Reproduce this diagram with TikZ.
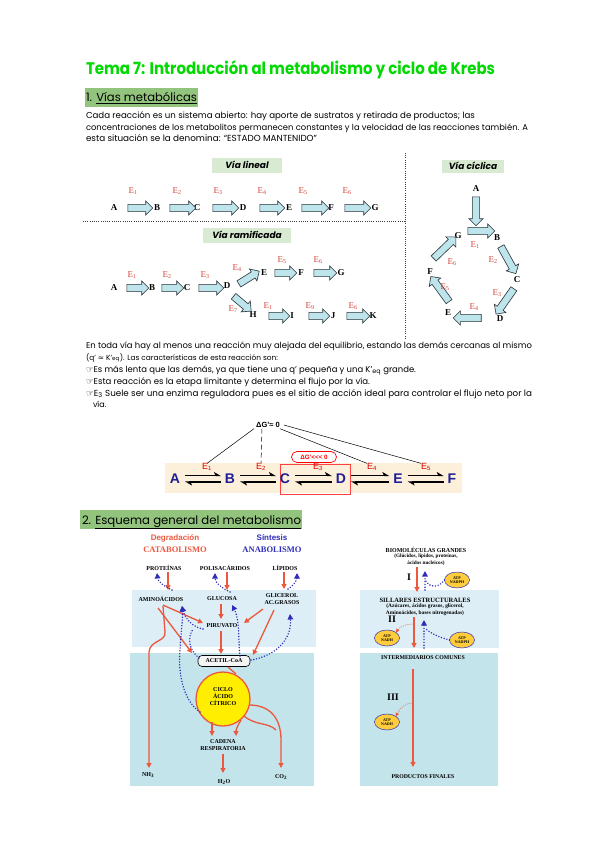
\documentclass[tikz,border=0pt]{standalone}
\usepackage{fontspec}
\usepackage{graphicx}
\setmainfont{Poppins}
\newfontfamily\serifb{Liberation Serif}
\newfontfamily\sansb{Liberation Sans}
\newfontfamily\dejavu{DejaVu Sans}
\usetikzlibrary{shapes.arrows,shapes.geometric,arrows.meta}
\newcommand{\fitto}[2]{\resizebox{#1}{!}{#2}}
\newcommand{\fsz}[1]{\fontsize{#1}{#1}\selectfont}
\definecolor{tgreen}{RGB}{0,218,0}
\definecolor{hgreen}{RGB}{147,196,125}
\definecolor{lgreen}{RGB}{217,234,211}
\definecolor{afill}{RGB}{190,228,236}
\definecolor{aline}{RGB}{40,50,55}
\definecolor{ered}{RGB}{214,68,58}
\definecolor{beige}{RGB}{253,240,218}
\definecolor{lblue}{RGB}{30,30,150}
\definecolor{band1}{RGB}{221,238,246}
\definecolor{band2}{RGB}{196,228,235}
\definecolor{rarrow}{RGB}{236,88,62}
\definecolor{barrow}{RGB}{45,45,185}
\definecolor{cyel}{RGB}{255,238,0}
\definecolor{eyel}{RGB}{255,205,60}
\definecolor{sepgray}{RGB}{60,60,60}
\begin{document}
\begin{tikzpicture}[x=1pt,y=-1pt,
  every node/.style={inner sep=0pt,outer sep=0pt},
  body/.style={anchor=base west,font=\fsz{8}},
  blk/.style={shape=single arrow,draw=aline,fill=afill,line width=0.6pt,
    inner xsep=0pt,inner ysep=3.3pt,single arrow head extend=3.5pt,single arrow head indent=0pt},
  lt/.style={font=\serifb\bfseries\fsz{9}},
  el/.style={font=\serifb\fsz{9},text=ered},
  vialab/.style={fill=lgreen,minimum height=15pt,font=\bfseries\itshape\fsz{9}},
  dl/.style={font=\sansb\bfseries\fsz{14},text=lblue},
  de/.style={font=\sansb\fsz{9},text=red!85!black},
  eqa/.style={line width=1.5pt,-{Stealth[harpoon,length=6pt,width=7pt,inset=1.5pt]}},
  sep/.style={draw=sepgray,line width=0.9pt,dash pattern=on 1pt off 1.2pt},
  mt/.style={font=\serifb\bfseries\fsz{6}},
  rarr/.style={draw=rarrow,line width=1.3pt,-{Triangle[length=5pt,width=5pt]}},
  rline/.style={draw=rarrow,line width=1.3pt},
  bdot/.style={draw=barrow,line width=1.6pt,line cap=round,dash pattern=on 0pt off 2.8pt,-{Triangle[length=5.5pt,width=5.5pt]}},
  bdotl/.style={draw=barrow,line width=1.6pt,line cap=round,dash pattern=on 0pt off 2.8pt},
  rdot/.style={draw=rarrow,line width=1pt,line cap=round,dash pattern=on 0pt off 2pt,-{Triangle[length=3.5pt,width=3.5pt]}},
  atp/.style={ellipse,fill=eyel,draw=barrow,line width=0.5pt,minimum width=25pt,minimum height=16pt,align=center,font=\serifb\bfseries\fsz{4}}
]
\useasboundingbox (0,0) rectangle (600,848);
\fill[white] (0,0) rectangle (600,848);

% ---------- title and heading 1
\node[anchor=base west,text=tgreen] (title) at (86,75) {\resizebox{409pt}{14pt}{\bfseries Tema 7: Introducción al metabolismo y ciclo de Krebs}};
\fill[hgreen] (85,88) rectangle (198,107);
\node[anchor=base west] (h1) at (86,102) {\fitto{111pt}{\fsz{12}1. \underline{Vías metabólicas}}};
\node[body] (p1) at (86,119) {\fitto{389pt}{Cada reacción es un sistema abierto: hay aporte de sustratos y retirada de productos; las}};
\node[body] (p2) at (86,131) {\fitto{442pt}{concentraciones de los metabolitos permanecen constantes y la velocidad de las reacciones también. A}};
\node[body] (p3) at (86,142) {\fitto{231pt}{esta situación se la denomina: “ESTADO MANTENIDO”}};

% ---------- separators
\draw[sep] (83,221) -- (405,221);
\draw[sep] (405,153) -- (405,338);

% ---------- via lineal
\node[vialab,minimum width=70pt] (vl) at (247,165) {Vía lineal};
\foreach \n/\x in {A/114,B/157,C/197,D/243,E/289,F/331,G/375}{\node[lt] (l\n) at (\x,208) {\n};}
\foreach \i/\c/\L in {1/138.5/25,2/181/26,3/224/26,4/270.5/25,5/313.5/27,6/356/26}{\node[blk,minimum height=\L pt] (la\i) at (\c,208) {};}
\foreach \i/\x in {1/133,2/177,3/218,4/262,5/303,6/347}{\node[el] (le\i) at (\x,191) {E\textsubscript{\i}};}

% ---------- via ramificada
\node[vialab,minimum width=88pt] (vr) at (247,235) {Vía ramificada};
\node[lt] (rA) at (114,288) {A};
\node[lt] (rB) at (152,288) {B};
\node[lt] (rC) at (187,288) {C};
\node[lt] (rD) at (227,286) {D};
\node[lt] (rE) at (264,273) {E};
\node[lt] (rF) at (301,273) {F};
\node[lt] (rG) at (341,273) {G};
\node[lt] (rH) at (253,315) {H};
\node[lt] (rI) at (292,316) {I};
\node[lt] (rJ) at (333,316) {J};
\node[lt] (rK) at (373,316) {K};
\node[blk,minimum height=22pt] (ra1) at (136,288) {};
\node[blk,minimum height=22pt] (ra2) at (171,288) {};
\node[blk,minimum height=25pt] (ra3) at (209.5,288) {};
\node[blk,minimum height=24pt,rotate=32] (ra4) at (247.5,278.5) {};
\node[blk,minimum height=22pt] (ra5) at (284,273) {};
\node[blk,minimum height=23pt] (ra6) at (323.5,273) {};
\node[blk,minimum height=23pt,rotate=-40] (ra7) at (241,302.5) {};
\node[blk,minimum height=21pt] (ra8) at (277.5,316) {};
\node[blk,minimum height=21pt] (ra9) at (317.5,316) {};
\node[blk,minimum height=23pt] (ra10) at (356.5,316) {};
\node[el] (re1) at (132,275) {E\textsubscript{1}};
\node[el] (re2) at (167,275) {E\textsubscript{2}};
\node[el] (re3) at (205,275) {E\textsubscript{3}};
\node[el] (re4) at (237,268) {E\textsubscript{4}};
\node[el] (re5) at (282,260) {E\textsubscript{5}};
\node[el] (re6) at (318,260) {E\textsubscript{6}};
\node[el] (re7) at (233,309) {E\textsubscript{7}};
\node[el] (re8) at (268,306) {E\textsubscript{1}};
\node[el] (re9) at (310,306) {E\textsubscript{9}};
\node[el] (re10) at (353,306) {E\textsubscript{6}};

% ---------- via ciclica
\node[vialab,minimum width=62pt,minimum height=13pt] (vc) at (473,166) {Vía cíclica};
\node[lt] (cA) at (476,189) {A};
\node[lt] (cG) at (458,236) {G};
\node[lt] (cB) at (497,238) {B};
\node[lt] (cC) at (517,280) {C};
\node[lt] (cD) at (500,319) {D};
\node[lt] (cE) at (448,313) {E};
\node[lt] (cF) at (430,272) {F};
\node[blk,minimum height=29pt,rotate=-90] (ca0) at (476,209.5) {};
\node[blk,minimum height=27pt] (ca1) at (479.5,231) {};
\node[blk,minimum height=31pt,rotate=-61] (ca2) at (507.5,258.5) {};
\node[blk,minimum height=31pt,rotate=-125] (ca3) at (506,300) {};
\node[blk,minimum height=28pt,rotate=180] (ca4) at (469,318) {};
\node[blk,minimum height=31pt,rotate=126] (ca5) at (441,290.5) {};
\node[blk,minimum height=31pt,rotate=44] (ca6) at (443.5,249) {};
\node[el] (ce1) at (475,245) {E\textsubscript{1}};
\node[el] (ce2) at (493,260) {E\textsubscript{2}};
\node[el] (ce3) at (497,293) {E\textsubscript{3}};
\node[el] (ce4) at (474,307) {E\textsubscript{4}};
\node[el] (ce5) at (445,287) {E\textsubscript{5}};
\node[el] (ce6) at (452,262) {E\textsubscript{6}};

% ---------- paragraph 2
\node[body] (q1) at (86,348) {\fitto{446pt}{En toda vía hay al menos una reacción muy alejada del equilibrio, estando las demás cercanas al mismo}};
\node[body] (q2) at (86,360) {\fitto{192pt}{(q’ {\dejavu ≈} K’\textsubscript{eq}). Las características de esta reacción son:}};
\node[body] (q3) at (86,372) {\fitto{330pt}{{\dejavu ☞}Es más lenta que las demás, ya que tiene una q’ pequeña y una K’\textsubscript{eq} grande.}};
\node[body] (q4) at (86,384) {\fitto{284pt}{{\dejavu ☞}Esta reacción es la etapa limitante y determina el flujo por la vía.}};
\node[body] (q5) at (86,396) {\fitto{446pt}{{\dejavu ☞}E\textsubscript{3} Suele ser una enzima reguladora pues es el sitio de acción ideal para controlar el flujo neto por la}};
\node[body] (q6) at (93,407) {vía.};

% ---------- delta G diagram
\fill[beige] (165,463) rectangle (462,493);
\draw[red!75!white,line width=0.8pt] (280,464) rectangle (350,494);
\foreach \n/\x in {A/175,B/230,C/285,D/341,E/398,F/452}{\node[dl] (d\n) at (\x,479) {\n};}
\foreach \a/\b in {A/B,B/C,C/D,D/E,E/F}{
  \draw[eqa] ([xshift=5pt,yshift=3.5pt]d\a.east) -- ([xshift=-4pt,yshift=3.5pt]d\b.west);
  \draw[eqa] ([xshift=-4pt,yshift=-3pt]d\b.west) -- ([xshift=5pt,yshift=-3pt]d\a.east);
}
\foreach \i/\x in {1/207,2/261,3/318,4/372,5/426}{\node[de] (de\i) at (\x,467) {E\textsubscript{\i}};}
\node[font=\sansb\bfseries\fsz{7.5}] (dg) at (268,425) {ΔG’≈ 0};
\node[draw=red,line width=0.7pt,rounded corners=5.5pt,minimum width=45pt,minimum height=11pt,font=\sansb\bfseries\fsz{6.3},text=red] (dgo) at (314,457) {ΔG’<<< 0};
\draw[line width=0.5pt] ([xshift=-14pt,yshift=-1pt]dg.south) -- (de1.north);
\draw[line width=0.5pt,dash pattern=on 5pt off 3pt] ([xshift=-6pt,yshift=-1pt]dg.south) -- (de2.north);
\draw[line width=0.5pt] ([yshift=-1pt]dg.south east) -- (de4.north west);
\draw[line width=0.5pt] ([xshift=4pt]dg.east) -- (de5.north west);

% ---------- heading 2
\fill[hgreen] (80,510) rectangle (302,529);
\node[anchor=base west] (h2) at (82,524) {\fitto{219pt}{\fsz{12}2. \underline{Esquema general del metabolismo}}};

% ---------- left metabolism figure
\fill[band1] (132,590) rectangle (316,647);
\fill[band2] (130,653) rectangle (314,786);
\node[font=\sansb\bfseries\fsz{8},text=rarrow] (deg) at (175,538) {Degradación};
\node[font=\serifb\bfseries\fsz{8.5},text=rarrow] (cat) at (175,550) {CATABOLISMO};
\node[font=\sansb\bfseries\fsz{8},text=barrow] (sin) at (272,538) {Síntesis};
\node[font=\serifb\bfseries\fsz{8.5},text=barrow] (ana) at (272,550) {ANABOLISMO};
\node[mt] (prot) at (164,568) {PROTEÍNAS};
\node[mt] (poli) at (225,568) {POLISACÁRIDOS};
\node[mt] (lip) at (285,568) {LÍPIDOS};
\node[mt] (amino) at (161,599) {AMINOÁCIDOS};
\node[mt] (gluc) at (222,599) {GLUCOSA};
\node[mt,align=center,font=\serifb\bfseries\fsz{6}] (glic) at (282,599) {GLICEROL\\[1.5pt]AC.GRASOS};
\node[mt] (piru) at (222,626) {PIRUVATO};
\node[mt,draw=black,line width=0.6pt,fill=white!92!gray,rounded corners=4pt,minimum width=52pt,minimum height=11pt] (acoa) at (224,661) {ACETIL-CoA};
\node[circle,fill=cyel,draw=rarrow,line width=1.3pt,minimum size=54pt] (cic) at (223,699) {};
\node[mt,align=center] (cictxt) at (223,697) {CICLO\\[1pt]ÁCIDO\\[1pt]CÍTRICO};
\node[mt,align=center] (cad) at (223,745) {CADENA\\[1pt]RESPIRATORIA};
\node[mt] (nh3) at (148,775) {NH\textsubscript{3}};
\node[mt] (h2o) at (224,782) {H\textsubscript{2}O};
\node[mt] (co2) at (281,777) {CO\textsubscript{2}};
% red catabolic arrows
\draw[rarr] (168,572) -- (168,590);
\draw[rarr] (227,572) -- (227,590);
\draw[rarr] (284,572) -- (284,589);
\draw[rarr] (163,605) -- (203,623);
\draw[rarr] (158,608) -- (192,653);
\draw[rarr] (163,606) -- (165,632) .. controls (166,642) and (150,640) .. (149,652) -- (149,768);
\draw[rarr] (221,604) -- (221,619);
\draw[rarr] (263,609) -- (244,623);
\draw[rarr] (274,610) -- (253,655);
\draw[rarr] (221,631) -- (221,654);
\draw[rline] (228,667) -- (236,674);
\draw[rarr] (212,722) -- (212,736);
\draw[rarr] (241,720) .. controls (238,725) and (236,729) .. (236,736);
\draw[rarr] (223,754) -- (223,773);
\draw[rarr] (249,705) .. controls (270,705) and (281,718) .. (281,740) -- (281,768);
\draw[rline] (244,716) .. controls (256,726) and (268,722) .. (276,730);
% blue anabolic arrows
\draw[bdot] (172,590) .. controls (164,586) and (158,582) .. (157,573);
\draw[bdot] (230,592) .. controls (222,588) and (215,583) .. (215,573);
\draw[bdot] (288,589) .. controls (294,585) and (297,580) .. (297,573);
\draw[bdot] (200,712) .. controls (182,700) and (178,670) .. (180,650) .. controls (181,630) and (183,620) .. (182,606);
\draw[bdot] (203,629) .. controls (192,627) and (185,618) .. (182,606);
\draw[bdotl] (199,658) .. controls (189,650) and (187,638) .. (193,629);
\draw[bdot] (240,656) .. controls (238,640) and (240,620) .. (232,605);
\draw[bdot] (251,660) .. controls (275,656) and (292,640) .. (290,614);

% ---------- right metabolism figure
\fill[band1] (360,590) rectangle (499,648);
\fill[band2] (360,653) rectangle (498,786);
\node[font=\serifb\bfseries\fsz{6}] (bio) at (426,550) {BIOMOLÉCULAS GRANDES};
\node[font=\serifb\bfseries\fsz{5.2}] (bio2) at (426,556.5) {(Glúcidos, lípidos, proteínas,};
\node[font=\serifb\bfseries\fsz{5.2}] (bio3) at (426,563) {ácidos nucleicos)};
\node[font=\serifb\bfseries\fsz{10}] (r1) at (409,577) {I};
\draw[rarr] (417,567) -- (417,592);
\draw[bdot] (425,590) -- (425,571);
\node[atp] (e1) at (457,580) {ATP\\NADPH};
\draw[bdotl] (e1.west) .. controls (437,590) and (428,586) .. (425,580);
\node[font=\serifb\bfseries\fsz{6.5}] (sil) at (425,600) {SILLARES ESTRUCTURALES};
\node[font=\serifb\bfseries\fsz{5.4}] (sil2) at (425,606.5) {(Azúcares, ácidos grasos, glicerol,};
\node[font=\serifb\bfseries\fsz{5.4}] (sil3) at (425,613) {Aminoácidos, bases nitrogenadas)};
\node[font=\serifb\bfseries\fsz{10}] (r2) at (392,619) {II};
\draw[rarr] (414,617) -- (414,648);
\draw[bdot] (424,648) -- (424,620);
\node[atp] (e2) at (387,638) {ATP\\NADH};
\node[atp] (e3) at (462,640) {ATP\\NADPH};
\draw[rdot] (413,624) .. controls (405,624) and (400,627) .. (e2.north east);
\draw[bdotl] (e3.west) .. controls (438,637) and (430,633) .. (425,628);
\node[font=\serifb\bfseries\fsz{5.8}] (inter) at (423,658) {INTERMEDIARIOS COMUNES};
\draw[rarr] (413,669) -- (413,767);
\node[font=\serifb\bfseries\fsz{10}] (r3) at (393,697) {III};
\node[atp] (e4) at (387,722) {ATP\\NADH};
\draw[rdot] (413,703) .. controls (405,703) and (400,708) .. (e4.north east);
\node[font=\serifb\bfseries\fsz{5.8}] (prod) at (423,777) {PRODUCTOS FINALES};
\end{tikzpicture}
\end{document}
